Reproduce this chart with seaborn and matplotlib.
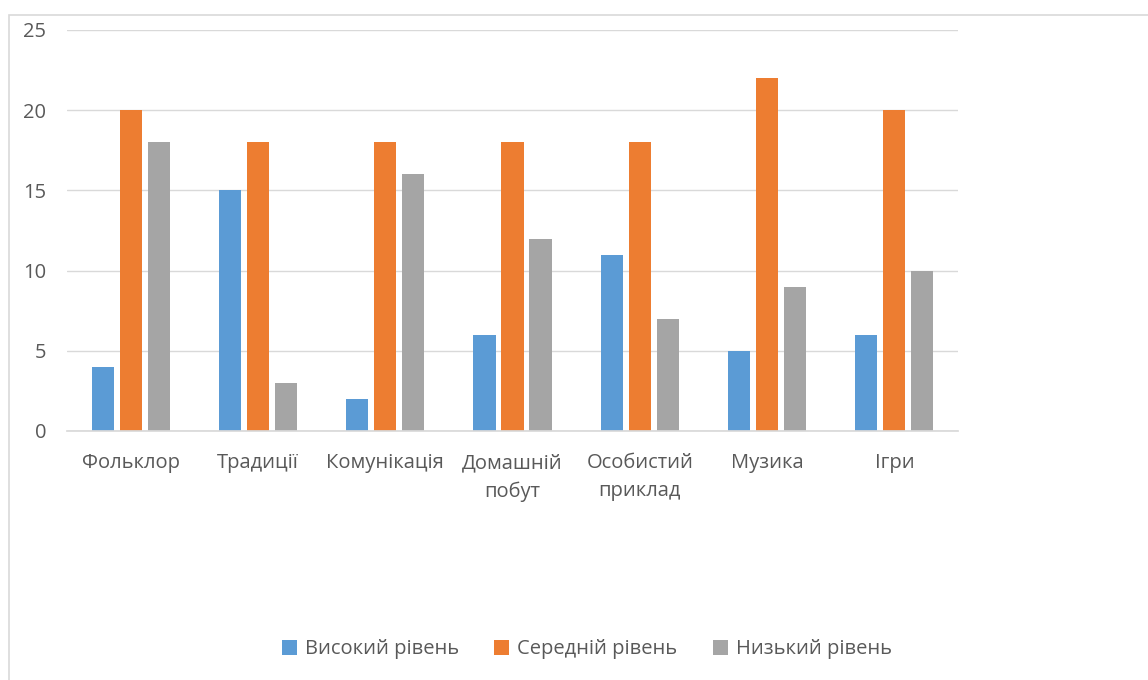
import pandas as pd
import seaborn as sns
from matplotlib import pyplot as plt
from matplotlib.patches import Rectangle

categories = ['Фольклор', 'Традиції', 'Комунікація', 'Домашній\nпобут',
              'Особистий\nприклад', 'Музика', 'Ігри']
series = ['Високий рівень', 'Середній рівень', 'Низький рівень']
high = [4, 15, 2, 6, 11, 5, 6]
mid = [20, 18, 18, 18, 18, 22, 20]
low = [18, 3, 16, 12, 7, 9, 10]
colors = ['#5B9BD5', '#ED7D31', '#A5A5A5']

rows = []
for name, vals in zip(series, [high, mid, low]):
    for cat, v in zip(categories, vals):
        rows.append({'cat': cat, 'level': name, 'value': v})
df = pd.DataFrame(rows)

sns.set_theme(style='white')
plt.rcParams['font.family'] = ['Open Sans', 'DejaVu Sans']
txt = '#595959'
fs = 14.5

fig = plt.figure(figsize=(11.48, 6.8), dpi=100)
ax = fig.add_axes([0.0584, 0.3662, 0.7761, 0.5897])

sns.barplot(data=df, x='cat', y='value', hue='level', palette=colors,
            width=0.66, gap=0.21, ax=ax, saturation=1, legend=True,
            linewidth=0)

ax.set_ylim(0, 25)
ax.set_yticks([0, 5, 10, 15, 20, 25])
ax.set_xlim(-0.5, len(categories) - 0.5)
ax.yaxis.grid(True, color='#D9D9D9', linewidth=1)
ax.set_axisbelow(True)
for s in ['top', 'right', 'left']:
    ax.spines[s].set_visible(False)
ax.spines['bottom'].set_color('#D9D9D9')
ax.set_xlabel('')
ax.set_ylabel('')
ax.tick_params(axis='y', length=0, pad=15, labelsize=fs, labelcolor=txt)
ax.tick_params(axis='x', length=0, pad=16, labelsize=fs, labelcolor=txt)
for lab in ax.get_xticklabels():
    lab.set_linespacing(1.55)

handles, labels = ax.get_legend_handles_labels()
ax.legend_.remove()
fig.legend(handles, labels, loc='center', bbox_to_anchor=(0.511, 0.045),
           ncol=3, frameon=False, fontsize=fs, labelcolor=txt,
           handlelength=0.75, handleheight=0.75, handletextpad=0.4,
           columnspacing=1.75)

fig.patches.append(Rectangle((9 / 1148, -0.1), 1.2, 1 - 15 / 680 + 0.1,
                             transform=fig.transFigure, fill=False,
                             edgecolor='#D9D9D9', linewidth=1.2))

fig.savefig('out.png', dpi=100)
